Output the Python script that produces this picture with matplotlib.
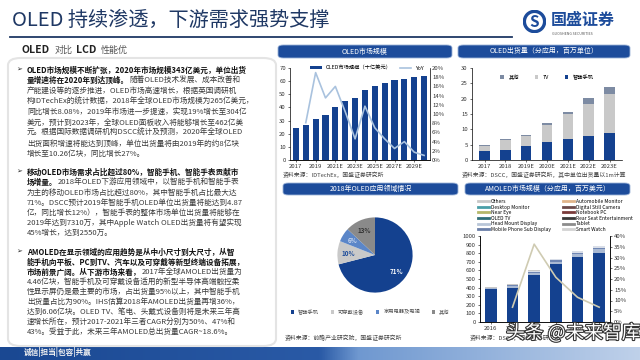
import numpy as np
import matplotlib.pyplot as plt
import matplotlib.patheffects as pe
from matplotlib.patches import FancyBboxPatch, Circle
from matplotlib.lines import Line2D
from matplotlib.colors import LinearSegmentedColormap

plt.rcParams['font.family'] = ['Noto Sans CJK SC', 'DejaVu Sans']

# ---- data ----
market_years = ['2017', '2018', '2019', '2020', '2021E', '2022E', '2023E', '2024E',
                '2025E', '2026E', '2027E', '2028E', '2029E', '2030E']
market_size = [24, 26.5, 31, 34.5, 40.5, 45, 47, 53, 56, 58.5, 60.5, 62, 63, 64]
market_yoy = [np.nan, 8.1, 19.0, 13.5, 16.0, 10.5, 4.6, 11.7, 7.0, 4.6, 2.5, 4.0, 1.7, 1.0]

ship_years = ['2017', '2018', '2019E', '2020E', '2021E', '2022E', '2023E']
ship_phone = [2.9, 3.3, 4.6, 5.9, 6.9, 7.8, 8.7]
ship_tv = [1.8, 3.1, 3.2, 5.5, 8.0, 10.5, 12.7]
ship_other = [0.3, 0.3, 0.3, 0.7, 0.8, 1.8, 2.5]

pie_labels = ['智能手机', '可穿戴设备', '家用电器及电视', '其他']
pie_share = [71, 10, 6, 13]

amoled_years = ['2016', '2017', '2018', '2019E', '2020E', '2021E']
amoled_main = [385, 397, 547, 673, 758, 808]
amoled_watch = [10, 20, 25, 30, 35, 37]
amoled_tablet = [5, 10, 12, 15, 15, 18]
amoled_tv = [0, 8, 12, 12, 14, 15]
amoled_others = [10, 8, 8, 8, 5, 7]
amoled_growth = [np.nan, 6.9, 36.2, 20.8, 11.5, 6.9]

legend_left = ['Others', 'Desktop Monitor', 'Near Eye', 'OLED TV', 'Head Mount Display',
               'Mobile Phone Sub Display']
legend_right = ['Automobile Monitor', 'Digital Still Camera', 'Notebook PC',
                'Rear Seat Entertainment', 'Tablet', 'Smart Watch']
colors_left = ['#c8c8c8', '#4a9fa8', '#b5b86a', '#2f6f78', '#b9c6d8', '#6a7fa8']
colors_right = ['#e0b48a', '#6b4a4a', '#7a3b3b', '#3a3a3a', '#8c8c8c', '#d3d3d3']

bullet1 = [[('OLED市场规模不断扩张，2020年市场规模343亿美元，单位出货', True)],
           [('量增速将在2020年到达顶峰。', True), ('随着OLED技术发展、成本改善和', False)],
           [('产能建设等的逐步推进，OLED市场高速增长，根据英国调研机', False)],
           [('构IDTechEx的统计数据，2018年全球OLED市场规模为265亿美元，', False)],
           [('同比增长8.08%，2019年市场进一步提速，实现19%增长至304亿', False)],
           [('美元，预计到2023年，全球OLED面板收入将能够增长至462亿美', False)],
           [('元。根据国际数据调研机构DSCC统计及预测，2020年全球OLED', False)],
           [('出货面积增速将能达到顶峰，单位出货量将由2019年的约8亿块', False)],
           [('增长至10.26亿块，同比增长27%。', False)]]
bullet2 = [[('移动OLED市场需求占比超过80%，智能手机、智能手表贡献市', True)],
           [('场增量。', True), ('2018年OLED下游应用领域中，以智能手机和智能手表', False)],
           [('为主的移动OLED市场占比超过80%，其中智能手机占比最大达', False)],
           [('71%。DSCC预计2019年智能手机OLED单位出货量将能达到4.87', False)],
           [('亿，同比增长12%），智能手表的整体市场单位出货量将能够在', False)],
           [('2019年达到7310万，其中Apple Watch OLED出货量将有望实现', False)],
           [('45%增长，达到2550万。', False)]]
bullet3 = [[('AMOLED在显示领域的应用趋势是从中小尺寸到大尺寸，从智', True)],
           [('能手机向平板、PC到TV、汽车以及可穿戴等新型终端设备拓展，', True)],
           [('市场前景广阔。从下游市场来看，', True), ('2017年全球AMOLED出货量为', False)],
           [('4.46亿块，智能手机及可穿戴设备适用的新型半导体高端触控柔', False)],
           [('性显示屏仍是最主要的市场，占出货量95%以上，其中智能手机', False)],
           [('出货量占比为90%。IHS估算2018年AMOLED出货量再增36%，', False)],
           [('达到6.06亿块。OLED TV、笔电、头戴式设备则将是未来三年高', False)],
           [('速增长所在，预计2017-2021年三者CAGR分别为50%、47%和', False)],
           [('43%。受益于此，未来三年AMOLED总出货量CAGR~18.6%。', False)]]

NAVY = '#14418f'
TXT = '#333333'

fig = plt.figure(figsize=(6.4, 3.6), dpi=100)
fig.patch.set_facecolor('white')
W, H = 640.0, 360.0
renderer = fig.canvas.get_renderer()


def fx(x):
    return x / W


def fy(y):
    return 1 - y / H


def box(x0, y0, x1, y1, text):
    fig.patches.append(FancyBboxPatch((fx(x0), fy(y1)), fx(x1 - x0), (y1 - y0) / H,
                                      boxstyle='round,pad=0,rounding_size=0.008',
                                      transform=fig.transFigure, fc='#1d4c9b', ec='#9db4d8', lw=0.6))
    fig.text(fx((x0 + x1) / 2), fy((y0 + y1) / 2), text, color='white', fontsize=5,
             ha='center', va='center')


def run_text(x0, y, parts):
    # parts: (text, fontsize, bold, color, gap_px)
    x = fx(x0)
    for text, size, bold, color, gap in parts:
        t = fig.text(x, fy(y), text, fontsize=size, va='center', color=color,
                     fontweight='bold' if bold else 'normal')
        x += t.get_window_extent(renderer).width / fig.bbox.width + gap / W


# ---- header ----
fig.text(fx(12), fy(20), 'OLED 持续渗透，下游需求强势支撑', fontsize=14.5, color='#1f3864',
         va='center')
fig.add_artist(Line2D([fx(10), fx(512)], [fy(37), fy(37)], color='#1f3864', lw=1.3))
run_text(22, 50, [('OLED', 7.5, True, '#222222', 4), ('对比', 6.5, False, '#555555', 4),
                  ('LCD', 7.5, True, '#222222', 4), ('性能优', 6.5, False, '#555555', 0)])

# logo
logo_ax = fig.add_axes([fx(523), fy(33), fx(23), 23 / H])
logo_ax.set_xlim(-1, 1)
logo_ax.set_ylim(-1, 1)
logo_ax.set_aspect('equal')
logo_ax.axis('off')
logo_ax.add_patch(Circle((0, 0), 0.88, fc='white', ec='#1d4c9b', lw=2.4))
logo_ax.text(0, -0.05, 'S', fontsize=11, fontweight='bold', color='#1d4c9b', ha='center', va='center')
fig.text(fx(551), fy(20), '国盛证券', fontsize=11.5, fontweight='bold', color='#1d4c9b', va='center')
fig.text(fx(552), fy(34), 'GUOSHENG SECURITIES', fontsize=2.6, color='#555555', va='center')

# ---- left text panel ----
fig.patches.append(FancyBboxPatch((fx(8), fy(346)), fx(268), 288 / H,
                                  boxstyle='round,pad=0,rounding_size=0.02',
                                  transform=fig.transFigure, fc='white', ec='#e4e4e4', lw=1.5))


def rich_block(y0, lines, pitch):
    fig.text(fx(16), fy(y0), '➢', fontsize=5, color='#222222', va='center', family='DejaVu Sans')
    for i, parts in enumerate(lines):
        run_text(27, y0 + i * pitch,
                 [(text, 5.5, bold, '#111111' if bold else '#3a3a3a', 0) for text, bold in parts])


rich_block(70, bullet1, 10.5)
rich_block(172, bullet2, 10.2)
rich_block(252, bullet3, 10.0)

# ---- chart 1: OLED market size ----
box(278, 45, 452, 58, 'OLED市场规模')
ax1 = fig.add_axes([fx(290), fy(160), fx(140), 92 / H])
x1 = np.arange(len(market_years))
ax1.bar(x1, market_size, width=0.62, color=NAVY, label='OLED市场规模（十亿美元）')
ax1.set_ylim(0, 70)
ax1.set_yticks(range(0, 71, 10))
ax1.set_xlim(-0.6, len(market_years) - 0.4)
ax1.set_xticks(x1[::2])
ax1.set_xticklabels(market_years[::2])
ax1b = ax1.twinx()
ax1b.plot(x1, market_yoy, color='#a9c2de', lw=1.2, label='YoY')
ax1b.set_ylim(0, 20)
ax1b.set_yticks(range(0, 21, 2))
ax1b.set_yticklabels([f'{v}%' for v in range(0, 21, 2)])
for a in (ax1, ax1b):
    a.tick_params(labelsize=4.3, length=1.5, width=0.5, pad=1.5, colors=TXT)
    for s in a.spines.values():
        s.set_linewidth(0.5)
    a.spines['top'].set_visible(False)
ax1b.spines['right'].set_visible(False)
ax1b.spines['left'].set_visible(False)
ax1b.tick_params(length=0)
h1, l1 = ax1.get_legend_handles_labels()
h2, l2 = ax1b.get_legend_handles_labels()
ax1.legend(h1 + h2, l1 + l2, loc='upper center', bbox_to_anchor=(0.55, 1.08), ncol=2,
           fontsize=3.8, frameon=False, handlelength=2.2, handleheight=0.6, columnspacing=1.5)
fig.text(fx(283), fy(175), '资料来源：IDTechEx，国盛证券研究所', fontsize=4.2, color='#444444', va='center')

# ---- chart 2: OLED shipments by application ----
box(458, 45, 630, 58, 'OLED出货量（分应用，百万单位）')
ax2 = fig.add_axes([fx(472), fy(160), fx(150), 92 / H])
x2 = np.arange(len(ship_years))
b1 = ax2.bar(x2, ship_phone, width=0.5, color=NAVY, label='智能手机')
b2 = ax2.bar(x2, ship_tv, width=0.5, bottom=ship_phone, color='#c9c9c9', label='TV')
bottom_o = np.array(ship_phone) + np.array(ship_tv)
b3 = ax2.bar(x2, ship_other, width=0.5, bottom=bottom_o, color='#7d8ba3', label='其他')
ax2.set_ylim(0, 30)
ax2.set_yticks(range(0, 31, 5))
ax2.set_xlim(-0.6, len(ship_years) - 0.4)
ax2.set_xticks(x2)
ax2.set_xticklabels(ship_years)
ax2.tick_params(labelsize=4.3, length=1.5, width=0.5, pad=1.5, colors=TXT)
for s in ('top', 'right'):
    ax2.spines[s].set_visible(False)
for s in ax2.spines.values():
    s.set_linewidth(0.5)
ax2.legend([b3, b2, b1], ['其他', 'TV', '智能手机'], loc='upper center', bbox_to_anchor=(0.5, 0.98),
           ncol=3, fontsize=3.8, frameon=False, handlelength=0.7, handleheight=0.7, columnspacing=3)
fig.text(fx(462), fy(175), '资料来源：DSCC，国盛证券研究所，其中单位出货量以1m计算', fontsize=4.2,
         color='#444444', va='center')

# ---- chart 3: pie ----
box(283, 183, 458, 195, '2018年OLED应用领域情况')
ax3 = fig.add_axes([fx(328), fy(302), fx(94), 94 / H])
pie_colors = ['#14418f', '#c9c9c9', '#5b86c8', '#8a8a8a']
wedges, texts, autotexts = ax3.pie(pie_share, colors=pie_colors, startangle=90, counterclock=False,
                                   autopct='%d%%', pctdistance=0.72,
                                   textprops=dict(fontsize=4.5, fontweight='bold'))
for t, c in zip(autotexts, ['white', '#1d4c9b', '#c8d6ee', '#333333']):
    t.set_color(c)
ax3.set_aspect('equal')
fig.legend(wedges, pie_labels, loc='center', bbox_to_anchor=(fx(370), fy(312)), ncol=4,
           fontsize=3.8, frameon=False, handlelength=0.6, handleheight=0.6, columnspacing=2.2,
           labelcolor='#555555')
fig.text(fx(285), fy(338), '资料来源：前瞻产业研究院，国盛证券研究所', fontsize=4.2, color='#444444',
         va='center')

# ---- chart 4: AMOLED market ----
box(465, 183, 630, 195, 'AMOLED市场规模（分应用，百万美元）')
ax4 = fig.add_axes([fx(480), fy(322), fx(130), 86 / H])
x4 = np.arange(len(amoled_years))
stack = [(amoled_main, NAVY), (amoled_watch, '#a9b9d3'), (amoled_tablet, '#6f86b3'),
         (amoled_tv, '#d9dee8'), (amoled_others, '#c8c8c8')]
bottom = np.zeros(len(amoled_years))
for vals, c in stack:
    ax4.bar(x4, vals, width=0.55, bottom=bottom, color=c)
    bottom += np.array(vals)
ax4.set_ylim(0, 1000)
ax4.set_yticks(range(0, 1001, 100))
ax4.set_xlim(-0.5, len(amoled_years) - 0.5)
ax4.set_xticks(x4)
ax4.set_xticklabels(amoled_years)
ax4b = ax4.twinx()
ax4b.plot(x4, amoled_growth, color='#cfcbb2', lw=1.2)
ax4b.set_ylim(0, 40)
ax4b.set_yticks(range(0, 41, 5))
ax4b.set_yticklabels([f'{v}%' for v in range(0, 41, 5)])
for a in (ax4, ax4b):
    a.tick_params(labelsize=4.3, length=1.5, width=0.5, pad=1.5, colors=TXT)
    for s in a.spines.values():
        s.set_linewidth(0.5)
    a.spines['top'].set_visible(False)
handles = [Line2D([], [], color=c, lw=2) for c in colors_left + colors_right]
fig.legend(handles, legend_left + legend_right, loc='upper left', bbox_to_anchor=(fx(478), fy(199)),
           ncol=2, fontsize=3.5, frameon=False, handlelength=2.2, labelspacing=0.12,
           columnspacing=2.5, borderaxespad=0, borderpad=0, handletextpad=0.5)
fig.text(fx(470), fy(338), '资料来源：DSCC，国盛证券研究所', fontsize=4.2, color='#444444', va='center')

# ---- bottom band ----
band = fig.add_axes([0, 0, 1, 13 / H])
cmap = LinearSegmentedColormap.from_list('band', [(0, '#1a4892'), (0.5, '#2a5aa6'),
                                                  (0.56, '#6f98d0'), (1, '#bfd1ea')])
band.imshow(np.linspace(0, 1, 256)[None, :], aspect='auto', cmap=cmap, extent=(0, 1, 0, 1))
band.axis('off')
fig.text(fx(24), fy(352), '诚信|担当|包容|共赢', fontsize=5.5, color='#f2f2f2', fontweight='bold',
         va='center')

# watermark
fig.text(fx(506), fy(333), '头条 @未来智库', fontsize=13.5, color='white', va='center',
         path_effects=[pe.withStroke(linewidth=1.6, foreground='#333333')])

fig.savefig('out.png', dpi=100)
